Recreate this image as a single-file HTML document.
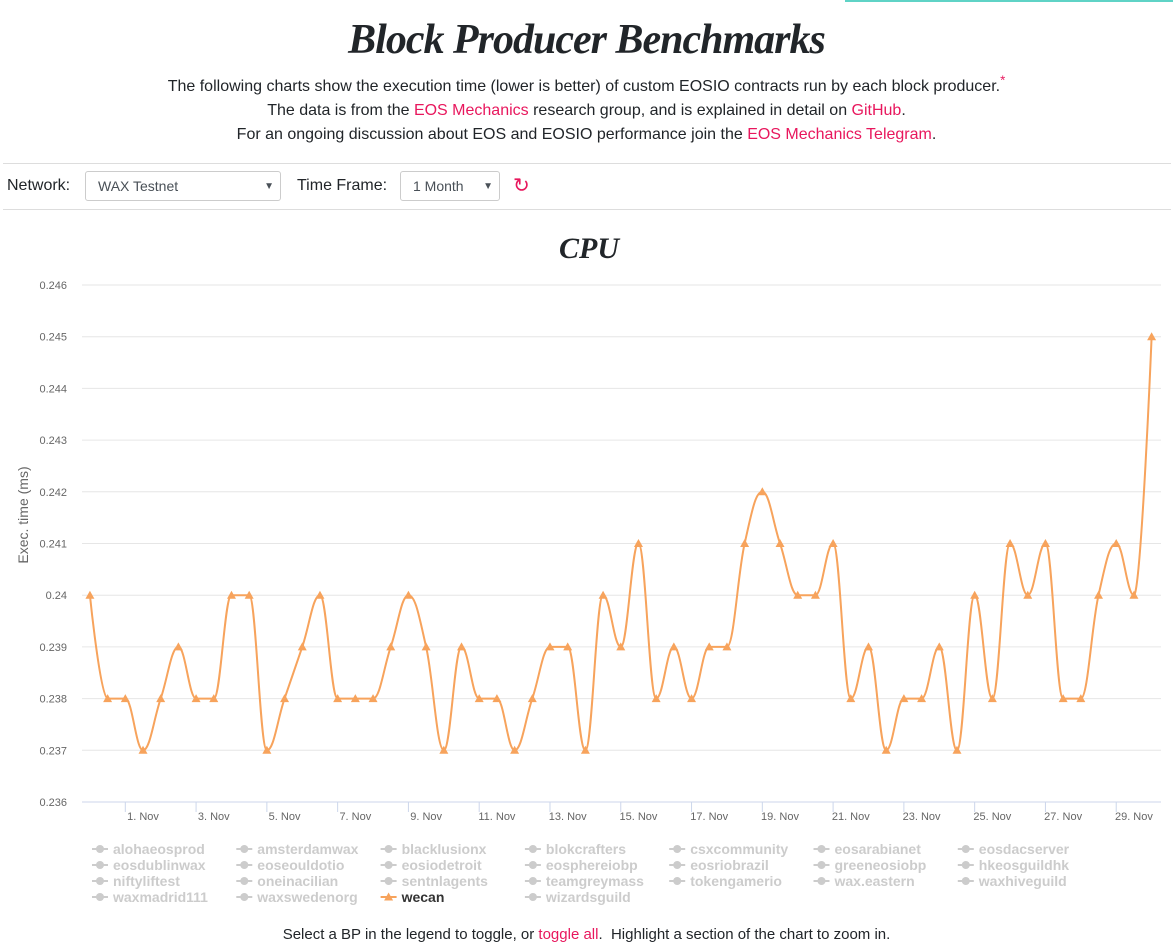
<!DOCTYPE html>
<html><head><meta charset="utf-8"><style>
body{margin:0;width:1173px;height:948px;background:#fff;font-family:"Liberation Sans",sans-serif;color:#212529;position:relative;overflow:hidden}
.a{color:#e8175d;text-decoration:none}
h1{position:absolute;top:16px;left:0;width:1173px;text-align:center;margin:0;font:italic bold 42px "Liberation Serif",serif;letter-spacing:-1px}
.intro{position:absolute;top:75px;width:1173px;text-align:center;font-size:16px;line-height:24px}
.hr{position:absolute;left:3px;width:1168px;height:1px;background:#ddd}
.sel{position:absolute;top:171px;height:30px;border:1px solid #ccc;border-radius:3px;font-size:14px;line-height:29px;padding-left:12px;box-sizing:border-box;color:#495057}
.sel span{position:absolute;right:6px;font-size:10px;top:0}
.lbl{position:absolute;top:177px;font-size:16px}
</style></head><body>
<div style="position:absolute;left:845px;top:0;width:328px;height:2px;background:#5fd3c6"></div>
<h1>Block Producer Benchmarks</h1>
<div class="intro">The following charts show the execution time (lower is better) of custom EOSIO contracts run by each block producer.<sup class="a" style="line-height:0">*</sup><br>The data is from the <a class="a">EOS Mechanics</a> research group, and is explained in detail on <a class="a">GitHub</a>.<br>For an ongoing discussion about EOS and EOSIO performance join the <a class="a">EOS Mechanics Telegram</a>.</div>
<div class="hr" style="top:163px"></div><div class="hr" style="top:209px"></div>
<div class="lbl" style="left:7px">Network:</div>
<div class="sel" style="left:85px;width:196px">WAX Testnet<span>▼</span></div>
<div class="lbl" style="left:297px">Time Frame:</div>
<div class="sel" style="left:400px;width:100px">1 Month<span>▼</span></div>
<div style="position:absolute;left:513px;top:173px;font-size:20px;color:#e8175d">↻</div>
<svg id="c" width="1173" height="948" style="position:absolute;left:0;top:0"></svg>
<div style="position:absolute;top:926px;width:1173px;text-align:center;font-size:15px">Select a BP in the legend to toggle, or <a class="a">toggle all</a>.&nbsp; Highlight a section of the chart to zoom in.</div>
<script>
const values=[.240,.238,.238,.237,.238,.239,.238,.238,.240,.240,.237,.238,.239,.240,.238,.238,.238,.239,.240,.239,.237,.239,.238,.238,.237,.238,.239,.239,.237,.240,.239,.241,.238,.239,.238,.239,.239,.241,.242,.241,.240,.240,.241,.238,.239,.237,.238,.238,.239,.237,.240,.238,.241,.240,.241,.238,.238,.240,.241,.240,.245];
const startDay=-0.5, stepDay=0.5;
const yTicks=[0.236,0.237,0.238,0.239,0.24,0.241,0.242,0.243,0.244,0.245,0.246];
const xTickDays=[1,3,5,7,9,11,13,15,17,19,21,23,25,27,29];
const bps=["alohaeosprod","amsterdamwax","blacklusionx","blokcrafters","csxcommunity","eosarabianet","eosdacserver","eosdublinwax","eoseouldotio","eosiodetroit","eosphereiobp","eosriobrazil","greeneosiobp","hkeosguildhk","niftyliftest","oneinacilian","sentnlagents","teamgreymass","tokengamerio","wax.eastern","waxhiveguild","waxmadrid111","waxswedenorg","wecan","wizardsguild"];
const NS="http://www.w3.org/2000/svg",svg=document.getElementById('c');
const X=d=>143+(d-1)*35.39, Y=v=>802-(v-0.236)*51700;
function el(t,a,txt){const e=document.createElementNS(NS,t);for(const k in a)e.setAttribute(k,a[k]);if(txt!=null)e.textContent=txt;svg.appendChild(e);return e;}
let e=el('text',{x:589,y:258,'text-anchor':'middle','font-family':'Liberation Serif,serif','font-style':'italic','font-weight':'bold','font-size':30,fill:'#212529'},'CPU');

yTicks.forEach(v=>{
 if(v>0.236){const g=el('line',{x1:82,x2:1161,y1:Y(v),y2:Y(v),stroke:'#e6e6e6'});}
 const t=el('text',{x:67,y:Y(v)+4,'text-anchor':'end','font-size':11,fill:'#666'},String(+v.toFixed(3)));
 
});
e=el('line',{x1:82,x2:1161,y1:802,y2:802,stroke:'#ccd6eb'});
xTickDays.forEach(d=>{
 const l=el('line',{x1:X(d)-17.7,x2:X(d)-17.7,y1:802,y2:812,stroke:'#ccd6eb'});
 const t=el('text',{x:X(d),y:820,'text-anchor':'middle','font-size':11,fill:'#666'},d+'. Nov');
});
e=el('text',{x:28,y:515,transform:'rotate(-90 28 515)','text-anchor':'middle','font-size':14,fill:'#666'},'Exec. time (ms)');

const pts=values.map((v,i)=>[X(startDay+i*stepDay),Y(v)]);
function ctrl(i){const p=pts[i],l=pts[i-1],n=pts[i+1];if(!l||!n)return null;
 let lx=(1.5*p[0]+l[0])/2.5,ly=(1.5*p[1]+l[1])/2.5,rx=(1.5*p[0]+n[0])/2.5,ry=(1.5*p[1]+n[1])/2.5;
 const c=((ry-ly)*(rx-p[0]))/(rx-lx)+p[1]-ry;ly+=c;ry+=c;
 if(ly>l[1]&&ly>p[1]){ly=Math.max(l[1],p[1]);ry=2*p[1]-ly;}else if(ly<l[1]&&ly<p[1]){ly=Math.min(l[1],p[1]);ry=2*p[1]-ly;}
 if(ry>n[1]&&ry>p[1]){ry=Math.max(n[1],p[1]);ly=2*p[1]-ry;}else if(ry<n[1]&&ry<p[1]){ry=Math.min(n[1],p[1]);ly=2*p[1]-ry;}
 return {lx,ly,rx,ry};}
const cs=pts.map((_,i)=>ctrl(i));
let d='M'+pts[0][0]+','+pts[0][1];
for(let i=1;i<pts.length;i++){const a=cs[i-1]?[cs[i-1].rx,cs[i-1].ry]:pts[i-1],b=cs[i]?[cs[i].lx,cs[i].ly]:pts[i];
 d+=` C${a[0]},${a[1]} ${b[0]},${b[1]} ${pts[i][0]},${pts[i][1]}`;}
e=el('path',{d:d,fill:'none',stroke:'#f7a35c','stroke-width':2});
pts.forEach(p=>{const m=el('path',{d:`M${p[0]},${p[1]-4.5}L${p[0]+4.5},${p[1]+3.5}L${p[0]-4.5},${p[1]+3.5}Z`,fill:'#f7a35c'});});
bps.forEach((n,i)=>{const cx=100+(i%7)*144.3,cy=849+Math.floor(i/7)*16,on=n==='wecan';
 const l=el('line',{x1:cx-8,x2:cx+8,y1:cy,y2:cy,stroke:on?'#f7a35c':'#ccc','stroke-width':2});
 const m=on?el('path',{d:`M${cx},${cy-4.5}L${cx+4.5},${cy+3.5}L${cx-4.5},${cy+3.5}Z`,fill:'#f7a35c'}):el('circle',{cx:cx,cy:cy,r:4,fill:'#ccc'});
 const t=el('text',{x:cx+13,y:cy+5,'font-size':14,'font-weight':'bold',fill:on?'#333':'#ccc'},n);
});
</script>
</body></html>
